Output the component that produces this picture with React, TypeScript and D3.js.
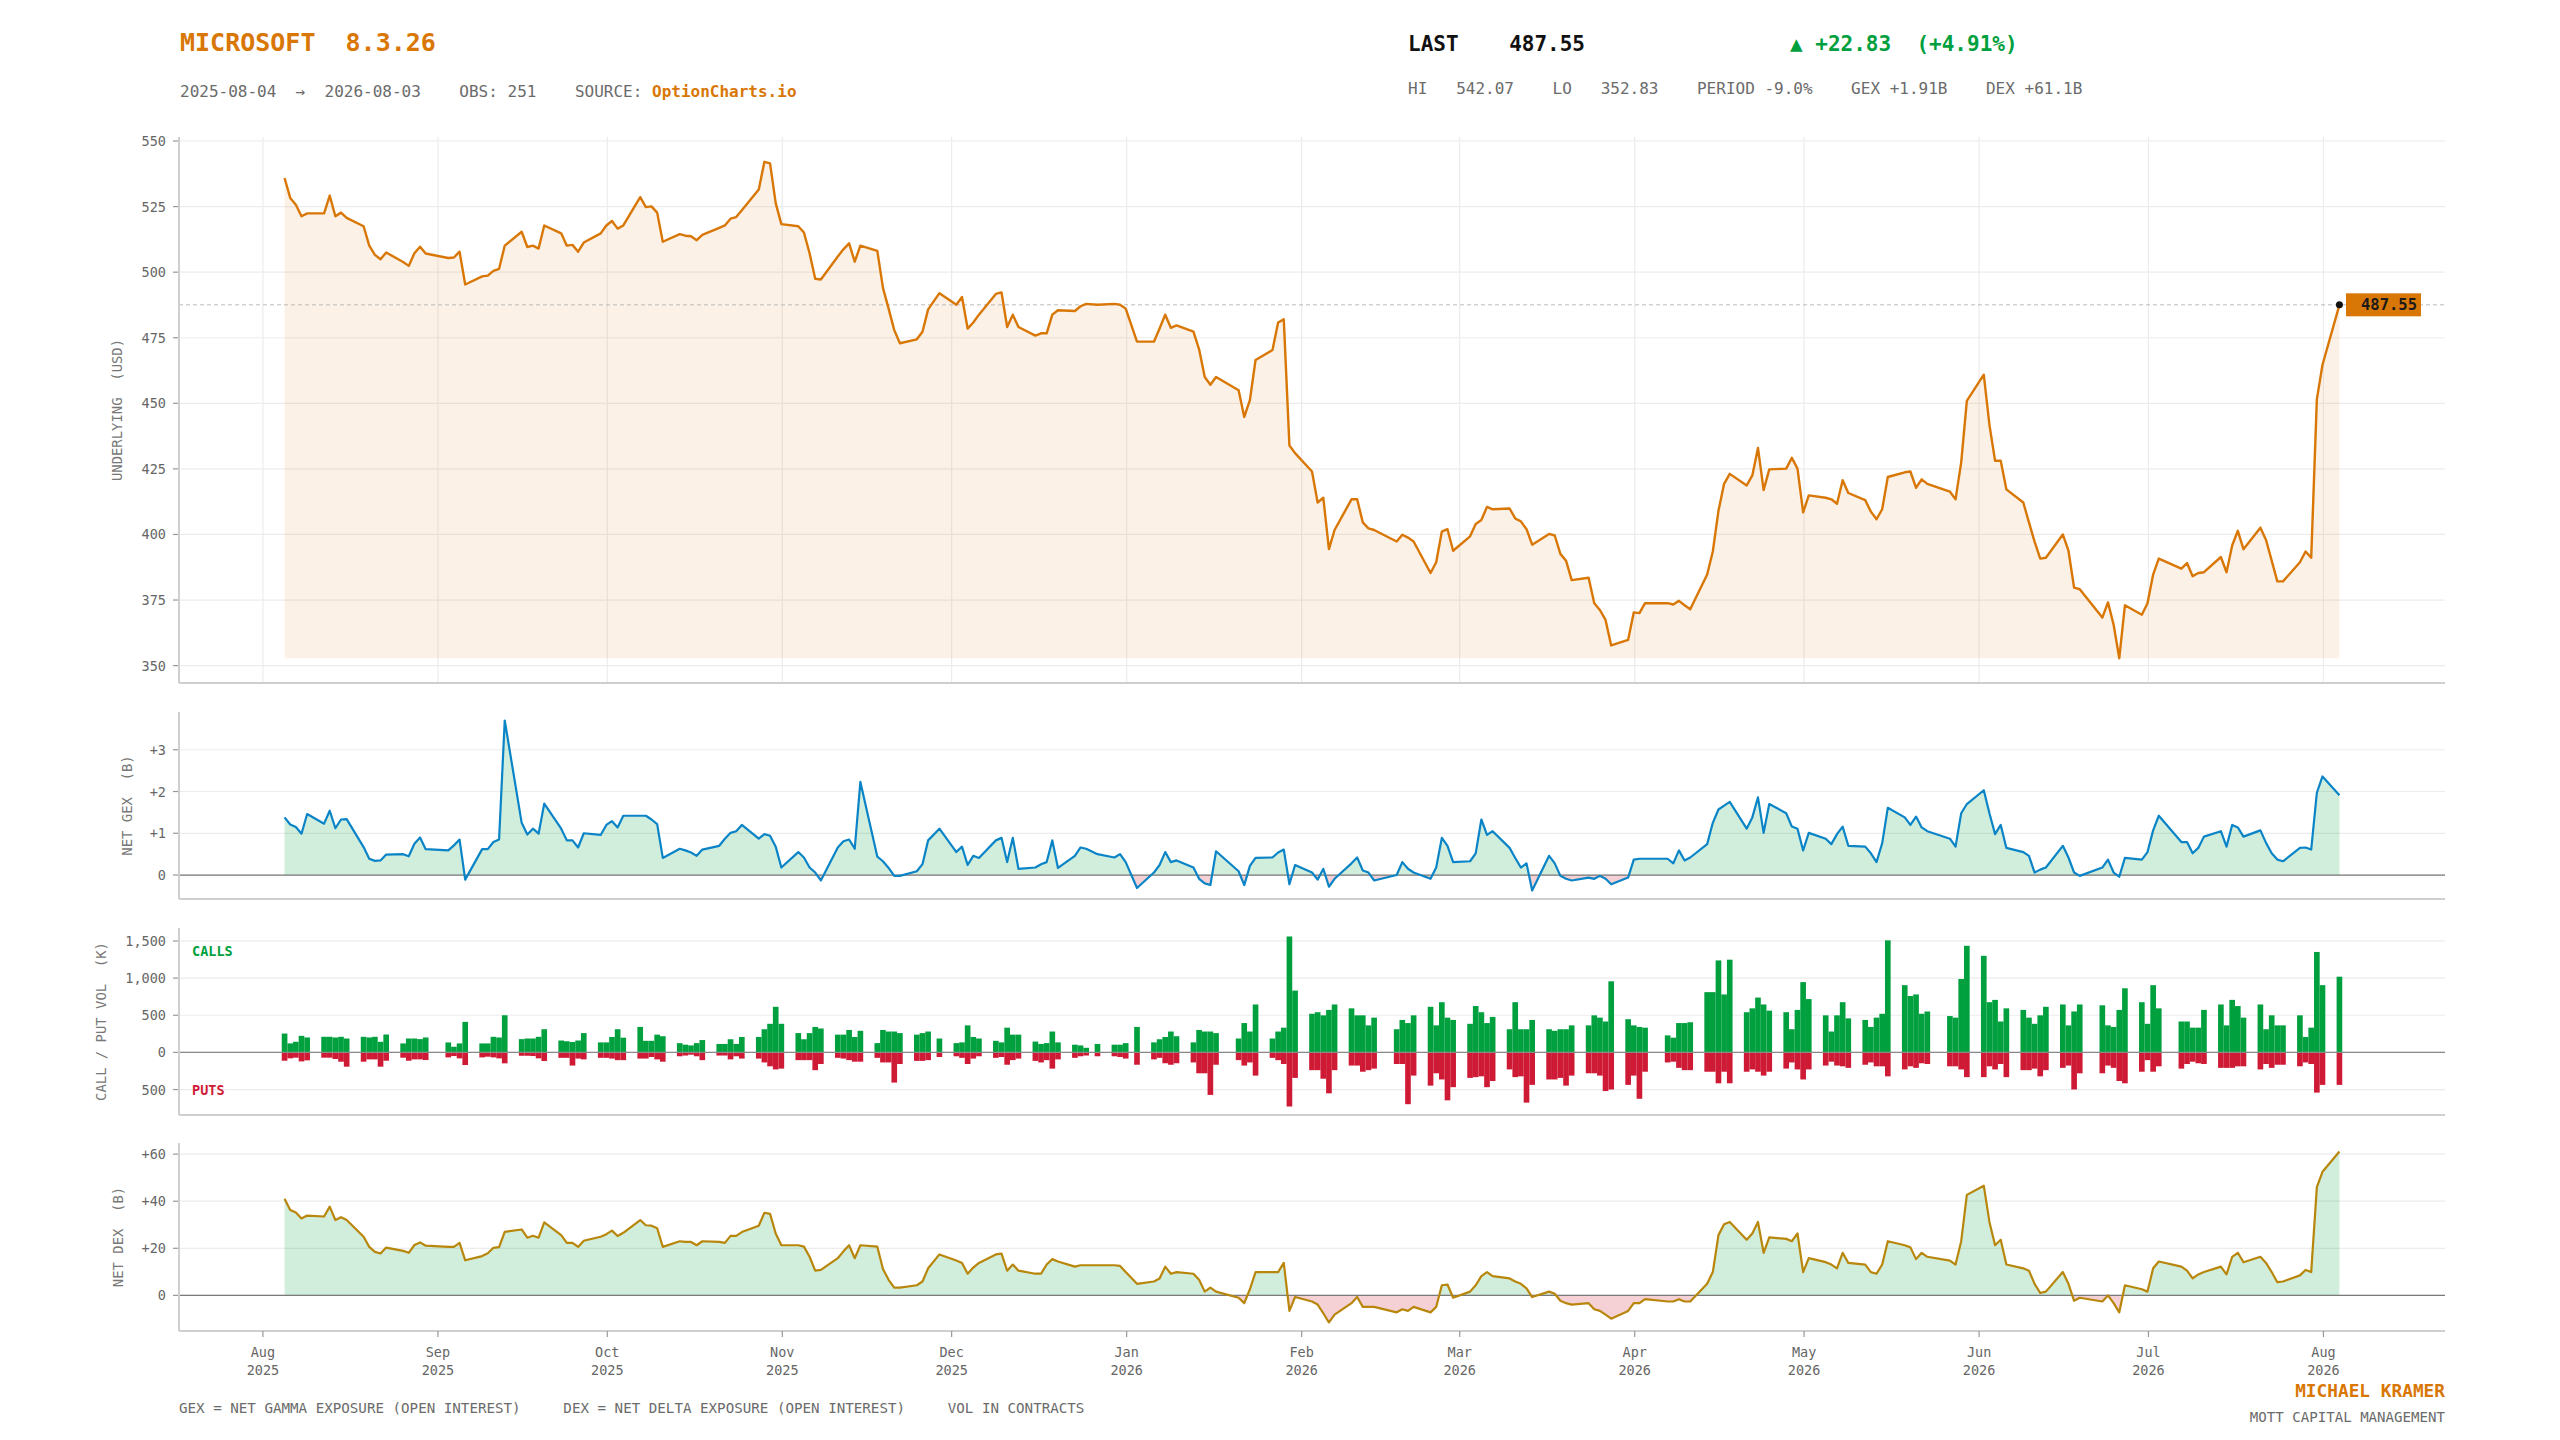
import React from 'react';
import * as d3 from 'd3';

// trading calendar
const START = '2025-08-04';
const END = '2026-08-03';
const HOLIDAYS = [
  '2025-09-01', '2025-11-27', '2025-12-25', '2026-01-01', '2026-01-19',
  '2026-02-16', '2026-04-03', '2026-05-25', '2026-06-19', '2026-07-03',
];

// underlying close, one value per trading day (weekly rows)
const price = [
  535.9, 528.3, 525.7, 521.3, 522.4,
  522.4, 529.2, 521.3, 522.7, 520.7,
  517.5, 510.1, 506.6, 504.9, 507.5,
  503.9, 502.4, 507.2, 509.7, 507.1,
  505.4, 505.6, 507.8, 495.3,
  498.4, 498.7, 500.5, 501.3, 510.1,
  515.4, 509.6, 510.1, 509.0, 517.8,
  514.8, 510.1, 510.4, 507.8, 511.3,
  514.8, 517.8, 519.5, 516.6, 517.8,
  528.6, 524.8, 525.1, 522.7, 511.6,
  514.5, 513.9, 513.7, 512.2, 514.2,
  516.9, 517.8, 520.4, 521.0, 523.6,
  531.5, 542.07, 541.5, 526.3, 518.3,
  517.5, 515.1, 507.2, 497.5, 497.2,
  506.0, 508.7, 511.0, 504.0, 510.1,
  508.1, 494.0, 486.1, 477.9, 472.9,
  474.4, 477.3, 485.8, 492.0,
  487.6, 490.5, 478.5, 480.8, 483.8,
  491.7, 492.3, 479.1, 483.8, 479.1,
  475.8, 476.7, 476.7, 483.8, 485.5,
  485.2, 487.0, 487.9, 487.6,
  487.9, 487.6, 486.1, 473.5,
  473.5, 478.5, 483.8, 478.8, 479.7,
  477.3, 470.6, 460.0, 457.1, 460.0,
  455.0, 444.8, 451.2, 466.5,
  470.3, 480.8, 482.0, 433.9, 431.0,
  424.0, 412.2, 414.0, 394.4, 401.7,
  413.4, 413.4, 404.6, 402.3, 401.7,
  397.3, 399.9, 398.8, 397.3,
  385.3, 389.4, 401.1, 402.0, 393.8,
  399.3, 404.0, 405.5, 410.5, 409.6,
  409.9, 406.1, 405.0, 402.0, 396.1,
  400.2, 399.6, 392.6, 390.0, 382.6,
  383.5, 373.8, 371.2, 367.4, 357.7,
  359.8, 370.3, 370.0, 373.8,
  373.8, 373.3, 374.7, 373.0, 371.5,
  384.7, 393.5, 409.0, 419.3, 423.1,
  418.7, 422.5, 433.0, 416.9, 424.8,
  425.1, 429.2, 425.1, 408.4, 414.9,
  414.0, 413.4, 411.7, 420.7, 415.8,
  413.1, 408.7, 405.8, 409.6, 421.9,
  423.7, 424.0, 417.8, 421.0, 419.3,
  416.3, 413.4, 427.5, 450.9,
  460.9, 441.8, 428.1, 428.1, 417.2,
  412.2, 404.6, 397.3, 390.8, 391.1,
  400.0, 393.8, 379.7, 379.1,
  368.3, 374.1, 365.6, 352.83, 373.0,
  369.4, 373.8, 384.7, 390.8,
  387.0, 389.1, 384.1, 385.3, 385.6,
  391.4, 385.6, 395.8, 401.4, 394.4,
  402.6, 397.9, 390.0, 382.1, 382.1,
  389.4, 393.5, 391.1, 451.5, 464.72,
  487.55,
];

// net gamma exposure, $B
const gex = [
  1.38, 1.21, 1.15, 0.99, 1.46,
  1.23, 1.54, 1.12, 1.33, 1.34,
  0.67, 0.39, 0.34, 0.35, 0.49,
  0.50, 0.45, 0.75, 0.90, 0.62,
  0.59, 0.71, 0.85, -0.11,
  0.62, 0.62, 0.79, 0.85, 3.70,
  1.25, 0.97, 1.11, 0.99, 1.71,
  1.11, 0.83, 0.83, 0.66, 1.00,
  0.96, 1.20, 1.29, 1.14, 1.42,
  1.42, 1.42, 1.33, 1.22, 0.41,
  0.63, 0.59, 0.54, 0.46, 0.61,
  0.70, 0.87, 1.01, 1.05, 1.20,
  0.87, 0.98, 0.94, 0.68, 0.18,
  0.55, 0.42, 0.18, 0.06, -0.13,
  0.66, 0.81, 0.85, 0.63, 2.23,
  0.44, 0.33, 0.17, -0.02, -0.02,
  0.09, 0.26, 0.83, 1.11,
  0.55, 0.68, 0.24, 0.46, 0.41,
  0.83, 0.89, 0.31, 0.89, 0.15,
  0.18, 0.26, 0.31, 0.83, 0.17,
  0.46, 0.66, 0.63, 0.50,
  0.42, 0.50, 0.31, -0.31,
  0.06, 0.24, 0.55, 0.31, 0.35,
  0.18, -0.09, -0.20, -0.24, 0.57,
  0.09, -0.24, 0.22, 0.41,
  0.42, 0.54, 0.61, -0.22, 0.24,
  0.06, -0.11, 0.15, -0.28, -0.09,
  0.28, 0.42, 0.11, 0.06, -0.13,
  0.00, 0.31, 0.15, 0.06,
  -0.09, 0.18, 0.89, 0.70, 0.31,
  0.33, 0.52, 1.33, 0.96, 1.05,
  0.65, 0.41, 0.18, 0.28, -0.37,
  0.46, 0.28, -0.02, -0.09, -0.13,
  -0.06, -0.09, -0.02, -0.09, -0.22,
  -0.06, 0.37, 0.39, 0.39,
  0.39, 0.28, 0.59, 0.35, 0.42,
  0.74, 1.25, 1.57, 1.66, 1.75,
  1.11, 1.38, 1.86, 1.01, 1.70,
  1.48, 1.16, 1.11, 0.59, 1.01,
  0.87, 0.74, 0.98, 1.16, 0.70,
  0.68, 0.52, 0.31, 0.76, 1.61,
  1.38, 1.20, 1.40, 1.14, 1.05,
  0.87, 0.68, 1.48, 1.70,
  2.03, 1.48, 0.98, 1.20, 0.65,
  0.55, 0.46, 0.06, 0.13, 0.18,
  0.70, 0.42, 0.06, -0.02,
  0.18, 0.37, 0.06, -0.04, 0.41,
  0.37, 0.55, 1.07, 1.42,
  0.79, 0.79, 0.52, 0.65, 0.92,
  1.05, 0.68, 1.20, 1.14, 0.92,
  1.07, 0.77, 0.52, 0.37, 0.33,
  0.65, 0.66, 0.61, 1.97, 2.36,
  1.91,
];

// call volume, thousands of contracts
const calls = [
  254, 121, 143, 223, 201,
  210, 210, 201, 210, 187,
  210, 201, 210, 143, 241,
  121, 187, 187, 179, 201,
  134, 76, 121, 411,
  121, 121, 210, 201, 500,
  179, 187, 187, 210, 312,
  160, 150, 140, 160, 260,
  135, 135, 208, 312, 198,
  343, 156, 156, 239, 218,
  125, 104, 94, 125, 166,
  114, 114, 177, 114, 208,
  208, 312, 385, 614, 385,
  260, 177, 260, 343, 322,
  239, 239, 302, 208, 291,
  125, 302, 281, 281, 260,
  239, 260, 281, 187,
  125, 135, 364, 208, 187,
  156, 135, 333, 239, 239,
  146, 114, 125, 281, 135,
  104, 94, 62, 114,
  104, 104, 125, 343,
  135, 177, 208, 281, 218,
  135, 302, 281, 281, 260,
  187, 395, 281, 645,
  187, 281, 333, 1560, 832,
  520, 541, 499, 572, 645,
  593, 499, 499, 364, 468,
  312, 437, 395, 499,
  614, 364, 676, 468, 437,
  385, 624, 541, 395, 478,
  312, 676, 312, 312, 437,
  312, 291, 312, 312, 364,
  364, 499, 468, 416, 957,
  447, 364, 343, 333,
  229, 198, 395, 395, 406,
  811, 811, 1238, 780, 1248,
  541, 593, 738, 645, 562,
  541, 312, 572, 946, 718,
  499, 281, 499, 676, 458,
  437, 343, 468, 520, 1508,
  905, 759, 780, 520, 551,
  489, 468, 988, 1435,
  1300, 676, 707, 416, 593,
  572, 468, 385, 499, 614,
  645, 364, 551, 645,
  634, 364, 343, 572, 863,
  676, 385, 905, 593,
  416, 416, 333, 333, 572,
  645, 364, 707, 624, 468,
  645, 312, 499, 364, 364,
  499, 208, 333, 1352, 905,
  1019,
];

// put volume, thousands of contracts (drawn below zero)
const puts = [
  112, 80, 71, 121, 107,
  71, 71, 89, 125, 192,
  125, 94, 94, 192, 112,
  71, 112, 94, 94, 103,
  67, 49, 80, 170,
  67, 58, 67, 80, 147,
  45, 45, 49, 80, 116,
  73, 73, 177, 83, 94,
  73, 73, 83, 104, 104,
  83, 83, 62, 94, 125,
  52, 42, 31, 52, 104,
  42, 42, 94, 52, 83,
  83, 135, 187, 229, 218,
  104, 104, 104, 239, 156,
  73, 83, 104, 125, 125,
  73, 135, 135, 406, 156,
  114, 114, 104, 62,
  52, 73, 156, 83, 52,
  73, 62, 166, 104, 83,
  114, 135, 104, 218, 94,
  73, 52, 42, 52,
  52, 62, 83, 166,
  94, 73, 146, 166, 146,
  135, 281, 281, 572, 166,
  104, 177, 135, 312,
  73, 104, 156, 728, 343,
  239, 239, 354, 551, 239,
  177, 177, 260, 239, 218,
  156, 156, 697, 312,
  447, 281, 364, 645, 468,
  343, 333, 322, 468, 385,
  229, 333, 322, 676, 437,
  364, 364, 343, 447, 312,
  281, 281, 312, 520, 499,
  437, 312, 624, 260,
  135, 125, 208, 239, 239,
  260, 260, 416, 260, 416,
  260, 229, 260, 312, 260,
  218, 135, 229, 364, 229,
  177, 125, 177, 187, 208,
  166, 135, 187, 187, 322,
  229, 187, 208, 146, 156,
  187, 187, 229, 333,
  333, 187, 229, 156, 333,
  239, 239, 218, 322, 239,
  208, 177, 499, 281,
  281, 177, 208, 385, 416,
  260, 104, 260, 187,
  218, 156, 125, 146, 156,
  208, 208, 208, 187, 187,
  229, 156, 208, 166, 166,
  187, 135, 156, 541, 437,
  437,
];

// net delta exposure, $B
const dex = [
  41.0, 36.3, 35.2, 32.7, 33.9,
  33.5, 37.7, 32.0, 33.2, 32.0,
  24.9, 20.6, 18.5, 17.8, 20.3,
  18.9, 18.1, 21.4, 22.5, 21.1,
  20.6, 20.6, 22.3, 14.9,
  16.7, 17.9, 20.2, 20.5, 27.0,
  28.0, 24.5, 25.3, 24.5, 31.0,
  25.6, 22.3, 22.3, 20.6, 23.2,
  24.9, 26.0, 27.5, 25.2, 26.6,
  32.0, 29.8, 29.6, 28.5, 20.6,
  23.0, 22.7, 22.7, 21.3, 23.0,
  22.7, 22.3, 25.3, 25.3, 26.9,
  29.6, 35.1, 34.6, 26.3, 21.3,
  21.3, 20.7, 16.4, 10.5, 10.8,
  15.8, 18.7, 21.3, 15.8, 21.3,
  20.7, 11.2, 6.6, 3.3, 3.3,
  4.3, 5.9, 11.5, 17.4,
  14.8, 13.8, 9.2, 11.8, 13.8,
  17.4, 17.7, 10.5, 13.1, 10.5,
  9.2, 9.2, 13.1, 15.4, 14.4,
  12.2, 12.8, 12.8, 12.8,
  12.8, 12.5, 9.9, 4.9,
  5.9, 7.2, 12.2, 9.2, 9.9,
  9.2, 6.6, 1.6, 3.3, 1.6,
  -1.0, -3.3, 2.6, 9.9,
  9.9, 9.9, 13.8, -6.6, -0.7,
  -2.6, -3.9, -7.6, -11.5, -8.2,
  -3.3, -0.7, -4.9, -4.9, -4.9,
  -7.2, -5.9, -6.6, -4.9,
  -7.2, -4.9, 4.3, 4.6, -1.0,
  1.6, 4.3, 8.2, 9.9, 8.2,
  7.2, 5.9, 4.9, 3.0, -0.7,
  1.6, 0.7, -2.3, -3.3, -3.9,
  -3.3, -5.9, -6.6, -8.2, -9.9,
  -6.6, -3.3, -3.3, -1.6,
  -2.6, -2.6, -1.6, -2.6, -2.6,
  4.9, 9.9, 25.6, 30.2, 31.2,
  23.6, 26.3, 31.2, 18.1, 24.6,
  24.0, 23.0, 26.3, 9.9, 15.8,
  14.1, 13.1, 11.5, 18.1, 13.8,
  13.1, 9.9, 9.2, 13.1, 23.0,
  21.3, 20.4, 15.4, 18.1, 16.4,
  14.8, 13.1, 23.0, 42.7,
  46.6, 31.2, 21.3, 23.6, 13.1,
  11.5, 10.5, 4.9, 1.0, 1.6,
  9.9, 4.9, -2.3, -1.0,
  -2.6, 0.0, -3.3, -7.2, 4.3,
  2.6, 1.6, 11.5, 14.4,
  12.2, 10.5, 7.2, 8.9, 9.9,
  12.2, 8.9, 16.4, 18.1, 14.1,
  16.4, 13.8, 9.9, 5.6, 5.9,
  8.5, 10.8, 9.9, 46.0, 52.5,
  61.1,
];

// axis ticks
const priceTicks = [350, 375, 400, 425, 450, 475, 500, 525, 550];
const gexTicks = [0, 1, 2, 3];
const volTicks = [-500, 0, 500, 1000, 1500];
const dexTicks = [0, 20, 40, 60];

const MONO = '"DejaVu Sans Mono", monospace';
const ORANGE = '#d97706';
const GREEN = '#00a03e';
const RED = '#cf1a36';
const BLUE = '#0a84c6';
const GOLD = '#b8860b';
const GRID = '#ececec';
const SPINE = '#cfcfcf';
const TICKC = '#666';

const LEFT = 179;
const RIGHT = 2445;
const PANELS = {
  price: [137, 683],
  gex: [712, 899],
  vol: [928, 1115],
  dex: [1143, 1331],
};

function tradingDays(): Date[] {
  const skip = new Set(HOLIDAYS);
  const key = d3.timeFormat('%Y-%m-%d');
  const [y0, m0, d0] = START.split('-').map(Number);
  const [y1, m1, d1] = END.split('-').map(Number);
  const last = new Date(y1, m1 - 1, d1, 23);
  const out: Date[] = [];
  for (let d = new Date(y0, m0 - 1, d0, 20); d <= last; d = d3.timeDay.offset(d, 1)) {
    const wd = d.getDay();
    if (wd === 0 || wd === 6 || skip.has(key(d))) continue;
    out.push(d);
  }
  return out;
}

const padded = (lo: number, hi: number): [number, number] => {
  const p = (hi - lo) * 0.05;
  return [lo - p, hi + p];
};

function YAxis({ scale, ticks, fmt }: any) {
  return (
    <g>
      {ticks.map((t: number) => (
        <g key={t}>
          <line x1={LEFT} x2={RIGHT} y1={scale(t)} y2={scale(t)} stroke={GRID} strokeWidth={1.2} />
          <line x1={LEFT - 6} x2={LEFT} y1={scale(t)} y2={scale(t)} stroke="#999" strokeWidth={1.2} />
          <text x={LEFT - 13} y={scale(t)} textAnchor="end" dominantBaseline="central"
            fontSize={13.5} fill={TICKC}>{fmt(t)}</text>
        </g>
      ))}
    </g>
  );
}

function Spines({ band }: { band: number[] }) {
  return (
    <g stroke={SPINE} strokeWidth={2}>
      <line x1={LEFT} x2={LEFT} y1={band[0]} y2={band[1]} />
      <line x1={LEFT} x2={RIGHT} y1={band[1]} y2={band[1]} />
    </g>
  );
}

function YTitle({ x, band, text }: { x: number; band: number[]; text: string }) {
  const cy = (band[0] + band[1]) / 2;
  return (
    <text transform={`translate(${x},${cy}) rotate(-90)`} textAnchor="middle" dominantBaseline="central"
      fontSize={13.9} fill="#777" style={{ whiteSpace: 'pre' }}>{text}</text>
  );
}

export default function App() {
  const dates = tradingDays();
  const n = dates.length;
  const idx = d3.range(n);
  const DAY = 864e5;
  const pad = (+dates[n - 1] - +dates[0]) * 0.05 + DAY * 0.5;

  const x = d3.scaleTime()
    .domain([new Date(+dates[0] - pad), new Date(+dates[n - 1] + pad)])
    .range([LEFT, RIGHT]);

  const pMin = d3.min(price) as number;
  const yP = d3.scaleLinear().domain(padded(pMin, d3.max(price) as number)).range([PANELS.price[1], PANELS.price[0]]);
  const yG = d3.scaleLinear().domain(padded(d3.min(gex) as number, d3.max(gex) as number)).range([PANELS.gex[1], PANELS.gex[0]]);
  const yV = d3.scaleLinear().domain(padded(-(d3.max(puts) as number), d3.max(calls) as number)).range([PANELS.vol[1], PANELS.vol[0]]);
  const yD = d3.scaleLinear().domain(padded(d3.min(dex) as number, d3.max(dex) as number)).range([PANELS.dex[1], PANELS.dex[0]]);

  const px = (i: number) => x(dates[i]);
  const priceLine = d3.line<number>().x(px).y((i) => yP(price[i]))(idx) as string;
  const priceArea = d3.area<number>().x(px).y0(yP(pMin)).y1((i) => yP(price[i]))(idx) as string;
  const gexLine = d3.line<number>().x(px).y((i) => yG(gex[i]))(idx) as string;
  const gexArea = d3.area<number>().x(px).y0(yG(0)).y1((i) => yG(gex[i]))(idx) as string;
  const dexLine = d3.line<number>().x(px).y((i) => yD(dex[i]))(idx) as string;
  const dexArea = d3.area<number>().x(px).y0(yD(0)).y1((i) => yD(dex[i]))(idx) as string;

  // bars one day wide, so a week reads as a solid block
  const barW = x(new Date(+dates[0] + DAY)) - x(dates[0]);
  const months = d3.timeMonth.range(new Date(2025, 7, 1), new Date(2026, 8, 1));
  const fmtMon = d3.timeFormat('%b');
  const fmtYear = d3.timeFormat('%Y');
  const fmtComma = d3.format(',');
  const signed = (t: number) => (t > 0 ? `+${t}` : `${t}`);

  const lastX = px(n - 1);
  const lastP = price[n - 1];

  return (
    <svg width={2560} height={1440} style={{ position: 'absolute', left: 0, top: 0, background: '#fff' }}
      fontFamily={MONO}>
      <defs>
        <clipPath id="gexPos"><rect x={LEFT} y={PANELS.gex[0]} width={RIGHT - LEFT} height={yG(0) - PANELS.gex[0]} /></clipPath>
        <clipPath id="gexNeg"><rect x={LEFT} y={yG(0)} width={RIGHT - LEFT} height={PANELS.gex[1] - yG(0)} /></clipPath>
        <clipPath id="dexPos"><rect x={LEFT} y={PANELS.dex[0]} width={RIGHT - LEFT} height={yD(0) - PANELS.dex[0]} /></clipPath>
        <clipPath id="dexNeg"><rect x={LEFT} y={yD(0)} width={RIGHT - LEFT} height={PANELS.dex[1] - yD(0)} /></clipPath>
      </defs>

      {/* header */}
      <text x={180} y={50.5} fontSize={25} fontWeight="bold" fill={ORANGE} style={{ whiteSpace: 'pre' }}>MICROSOFT  8.3.26</text>
      <text x={180} y={97} fontSize={16} fill="#6b6b6b" style={{ whiteSpace: 'pre' }}>
        {'2025-08-04  →  2026-08-03    OBS: 251    SOURCE: '}
        <tspan fill={ORANGE} fontWeight="bold">OptionCharts.io</tspan>
      </text>
      <text x={1408} y={50.5} fontSize={21} fontWeight="bold" fill="#111" style={{ whiteSpace: 'pre' }}>LAST    487.55</text>
      <text x={1790} y={50.5} fontSize={21} fontWeight="bold" fill={GREEN} style={{ whiteSpace: 'pre' }}>▲ +22.83  (+4.91%)</text>
      <text x={1408} y={94} fontSize={16} fill="#6b6b6b" style={{ whiteSpace: 'pre' }}>
        HI   542.07    LO   352.83    PERIOD -9.0%    GEX +1.91B    DEX +61.1B
      </text>

      {/* price panel */}
      {months.map((m) => (
        <line key={+m} x1={x(m)} x2={x(m)} y1={PANELS.price[0]} y2={PANELS.price[1]} stroke={GRID} strokeWidth={1.2} />
      ))}
      <YAxis scale={yP} ticks={priceTicks} fmt={(t: number) => `${t}`} />
      <path d={priceArea} fill="rgba(217,119,6,0.1)" />
      <line x1={LEFT} x2={RIGHT} y1={yP(lastP)} y2={yP(lastP)} stroke="#bbb" strokeWidth={1} strokeDasharray="4 3" />
      <path d={priceLine} fill="none" stroke={ORANGE} strokeWidth={2.4} strokeLinejoin="round" />
      <circle cx={lastX} cy={yP(lastP)} r={3.5} fill="#111" />
      <rect x={2346} y={yP(lastP) - 11.5} width={75} height={23} fill={ORANGE} />
      <text x={2417} y={yP(lastP)} textAnchor="end" dominantBaseline="central" fontSize={15.5}
        fontWeight="bold" fill="#1a1a1a">{lastP.toFixed(2)}</text>
      <Spines band={PANELS.price} />
      <YTitle x={117} band={PANELS.price} text="UNDERLYING  (USD)" />

      {/* gex panel */}
      <YAxis scale={yG} ticks={gexTicks} fmt={signed} />
      <path d={gexArea} fill="rgba(0,158,66,0.18)" clipPath="url(#gexPos)" />
      <path d={gexArea} fill="rgba(204,23,51,0.2)" clipPath="url(#gexNeg)" />
      <line x1={LEFT} x2={RIGHT} y1={yG(0)} y2={yG(0)} stroke="#7a7a7a" strokeWidth={1.3} />
      <path d={gexLine} fill="none" stroke={BLUE} strokeWidth={2.2} strokeLinejoin="round" />
      <Spines band={PANELS.gex} />
      <YTitle x={127} band={PANELS.gex} text="NET GEX  (B)" />

      {/* volume panel */}
      <YAxis scale={yV} ticks={volTicks} fmt={(t: number) => fmtComma(Math.abs(t))} />
      {idx.map((i) => (
        <g key={i}>
          <rect x={px(i) - barW / 2} width={barW} y={yV(calls[i])} height={yV(0) - yV(calls[i])} fill={GREEN} />
          <rect x={px(i) - barW / 2} width={barW} y={yV(0)} height={yV(-puts[i]) - yV(0)} fill={RED} />
        </g>
      ))}
      <line x1={LEFT} x2={RIGHT} y1={yV(0)} y2={yV(0)} stroke="#8a8a8a" strokeWidth={1.3} />
      <text x={192} y={955.5} fontSize={13.5} fontWeight="bold" fill={GREEN}>CALLS</text>
      <text x={192} y={1095} fontSize={13.5} fontWeight="bold" fill={RED}>PUTS</text>
      <Spines band={PANELS.vol} />
      <YTitle x={101} band={PANELS.vol} text="CALL / PUT VOL  (K)" />

      {/* dex panel */}
      <YAxis scale={yD} ticks={dexTicks} fmt={signed} />
      <path d={dexArea} fill="rgba(0,158,66,0.18)" clipPath="url(#dexPos)" />
      <path d={dexArea} fill="rgba(204,23,51,0.2)" clipPath="url(#dexNeg)" />
      <line x1={LEFT} x2={RIGHT} y1={yD(0)} y2={yD(0)} stroke="#7a7a7a" strokeWidth={1.3} />
      <path d={dexLine} fill="none" stroke={GOLD} strokeWidth={2.2} strokeLinejoin="round" />
      <Spines band={PANELS.dex} />
      <YTitle x={118} band={PANELS.dex} text="NET DEX  (B)" />

      {/* x axis */}
      {months.map((m) => (
        <g key={+m} transform={`translate(${x(m)},0)`}>
          <line y1={PANELS.dex[1]} y2={PANELS.dex[1] + 6} stroke="#999" strokeWidth={1.2} />
          <text y={1357} textAnchor="middle" fontSize={13.5} fill={TICKC}>{fmtMon(m)}</text>
          <text y={1375} textAnchor="middle" fontSize={13.5} fill={TICKC}>{fmtYear(m)}</text>
        </g>
      ))}

      {/* footer */}
      <text x={179} y={1413} fontSize={14.2} fill="#6b6b6b" style={{ whiteSpace: 'pre' }}>
        GEX = NET GAMMA EXPOSURE (OPEN INTEREST)     DEX = NET DELTA EXPOSURE (OPEN INTEREST)     VOL IN CONTRACTS
      </text>
      <text x={RIGHT} y={1397} textAnchor="end" fontSize={17.8} fontWeight="bold" fill={ORANGE}>MICHAEL KRAMER</text>
      <text x={RIGHT} y={1422} textAnchor="end" fontSize={14.1} fill="#6b6b6b">MOTT CAPITAL MANAGEMENT</text>
    </svg>
  );
}
